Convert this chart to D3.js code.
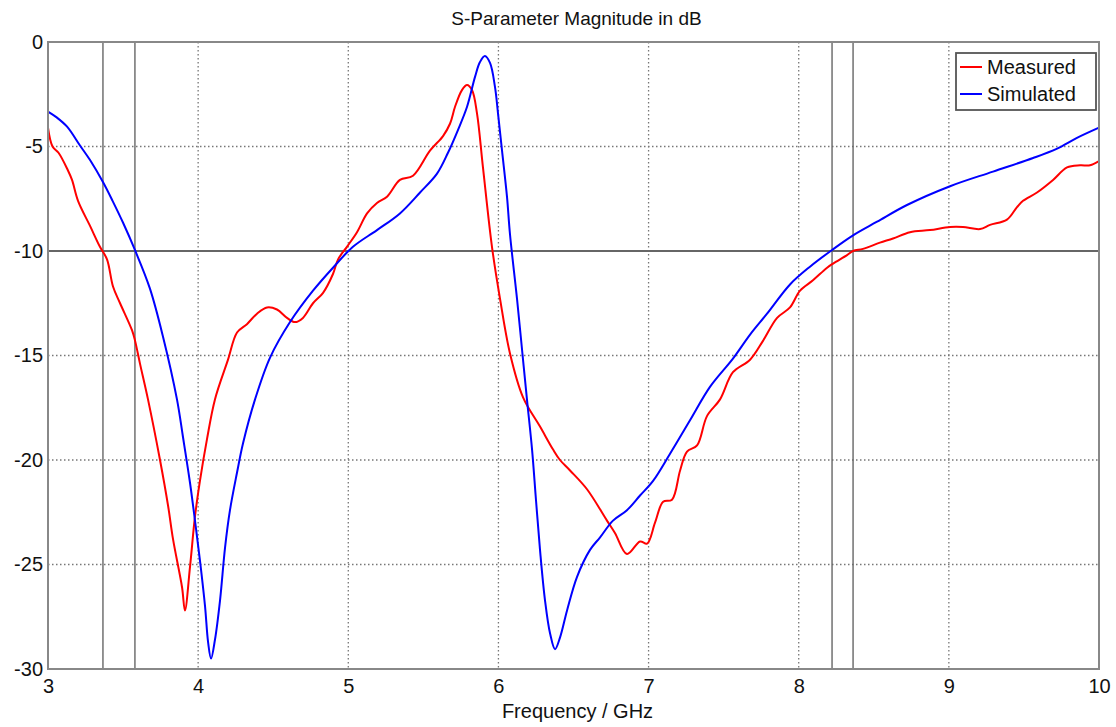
<!DOCTYPE html>
<html>
<head>
<meta charset="utf-8">
<script src="https://cdn.jsdelivr.net/npm/d3@7"></script>
<style>
  html, body { margin: 0; padding: 0; background: #fff; }
  svg { display: block; font-family: "Liberation Sans", Arial, sans-serif; }
</style>
</head>
<body>
<svg id="chart" width="1116" height="727"></svg>
<script>
// ---- data ----
const measuredFreq = [3.0,3.03,3.07,3.13,3.16,3.2,3.28,3.346,3.393,3.433,3.48,3.56,3.58,3.613,3.666,3.746,3.8,3.833,3.893,3.912,3.946,3.979,4.012,4.059,4.112,4.199,4.259,4.325,4.392,4.459,4.525,4.592,4.645,4.698,4.765,4.832,4.898,4.932,4.991,5.058,5.125,5.191,5.258,5.344,5.431,5.544,5.631,5.678,5.711,5.757,5.791,5.824,5.857,5.897,5.957,6.011,6.077,6.164,6.277,6.364,6.41,6.477,6.59,6.723,6.777,6.856,6.943,6.99,7.043,7.097,7.156,7.21,7.256,7.323,7.389,7.476,7.562,7.676,7.762,7.856,7.942,8.009,8.095,8.189,8.229,8.322,8.362,8.428,8.541,8.628,8.741,8.874,9.008,9.094,9.208,9.274,9.387,9.454,9.494,9.587,9.694,9.787,9.874,9.94,10.0];
const measuredDb = [-4.1,-5.0,-5.3,-6.1,-6.6,-7.6,-8.8,-9.8,-10.4,-11.7,-12.5,-13.8,-14.3,-15.4,-17.1,-20.0,-22.2,-23.8,-26.1,-27.2,-25.1,-22.7,-21.0,-19.0,-17.1,-15.2,-13.9,-13.5,-13.0,-12.7,-12.8,-13.2,-13.4,-13.2,-12.5,-12.0,-11.1,-10.4,-9.8,-9.1,-8.2,-7.7,-7.4,-6.6,-6.4,-5.2,-4.5,-3.9,-3.1,-2.3,-2.06,-2.3,-3.4,-6.0,-9.8,-12.3,-14.9,-17.0,-18.4,-19.5,-20.0,-20.5,-21.4,-22.9,-23.5,-24.5,-23.9,-24.0,-23.0,-22.0,-21.9,-20.5,-19.6,-19.3,-17.9,-17.1,-15.8,-15.2,-14.3,-13.2,-12.7,-11.9,-11.4,-10.8,-10.6,-10.2,-10.0,-9.9,-9.6,-9.4,-9.1,-9.0,-8.85,-8.85,-8.95,-8.75,-8.5,-7.9,-7.6,-7.2,-6.6,-6.0,-5.9,-5.9,-5.7];

const simulatedFreq = [3.0,3.06,3.127,3.213,3.28,3.366,3.43,3.5,3.579,3.679,3.766,3.859,3.899,3.946,3.979,4.012,4.046,4.066,4.086,4.112,4.146,4.179,4.212,4.259,4.299,4.379,4.479,4.612,4.765,4.898,5.031,5.191,5.344,5.478,5.591,5.664,5.731,5.791,5.844,5.877,5.91,5.944,5.977,5.997,6.024,6.057,6.077,6.124,6.157,6.19,6.224,6.25,6.277,6.31,6.344,6.377,6.41,6.457,6.523,6.61,6.677,6.763,6.856,6.943,7.03,7.143,7.276,7.409,7.562,7.676,7.789,7.942,8.075,8.222,8.362,8.522,8.721,9.008,9.294,9.561,9.721,9.85,10.0];
const simulatedDb = [-3.33,-3.62,-4.05,-4.95,-5.65,-6.7,-7.6,-8.65,-9.95,-11.8,-14.1,-17.1,-18.9,-21.1,-22.9,-24.8,-27.0,-28.7,-29.5,-28.6,-26.7,-24.2,-22.4,-20.6,-19.2,-17.1,-15.1,-13.4,-11.9,-10.8,-9.8,-9.0,-8.2,-7.2,-6.3,-5.3,-4.2,-3.1,-1.67,-0.96,-0.67,-1.0,-2.15,-3.4,-5.2,-7.4,-9.2,-12.3,-14.7,-17.1,-19.5,-21.9,-24.3,-26.7,-28.3,-29.05,-28.5,-27.2,-25.6,-24.3,-23.7,-22.9,-22.4,-21.7,-21.0,-19.7,-18.1,-16.5,-15.15,-14.0,-13.0,-11.6,-10.75,-9.95,-9.25,-8.6,-7.8,-6.9,-6.2,-5.55,-5.1,-4.6,-4.1];

const markerFreqs = [3.366, 3.579, 8.222, 8.362];
const refLevel = -10;
const xTicks = [3,4,5,6,7,8,9,10];
const yTicks = [0,-5,-10,-15,-20,-25,-30];
const seriesNames = ["Measured", "Simulated"];
const seriesColors = ["#ff0000", "#0000ff"];

// ---- layout ----
const svg = d3.select("#chart");
const pLeft = 48, pRight = 1099, pTop = 42, pBottom = 669;
const x = d3.scaleLinear().domain([3, 10]).range([pLeft, pRight]);
const y = d3.scaleLinear().domain([-30, 0]).range([pBottom, pTop]);

// grid
const grid = svg.append("g");
grid.selectAll("line.vx").data(xTicks.slice(1, -1)).join("line")
  .attr("x1", d => x(d)).attr("x2", d => x(d)).attr("y1", pTop).attr("y2", pBottom)
  .attr("stroke", "#777").attr("stroke-width", 1.3).attr("stroke-dasharray", "1.5,2.5");
grid.selectAll("line.hy").data(yTicks.slice(1, -1).filter(d => d !== refLevel)).join("line")
  .attr("y1", d => y(d)).attr("y2", d => y(d)).attr("x1", pLeft).attr("x2", pRight)
  .attr("stroke", "#777").attr("stroke-width", 1.3).attr("stroke-dasharray", "1.5,2.5");

// marker lines
svg.append("g").selectAll("line").data(markerFreqs).join("line")
  .attr("x1", d => x(d)).attr("x2", d => x(d)).attr("y1", pTop).attr("y2", pBottom)
  .attr("stroke", "#666").attr("stroke-width", 1.4);
svg.append("line")
  .attr("x1", pLeft).attr("x2", pRight).attr("y1", y(refLevel)).attr("y2", y(refLevel))
  .attr("stroke", "#666").attr("stroke-width", 2.2);

// curves
const line = d3.line().x(d => x(d[0])).y(d => y(d[1])).curve(d3.curveCatmullRom.alpha(0.5));
const series = [
  d3.zip(measuredFreq, measuredDb),
  d3.zip(simulatedFreq, simulatedDb)
];
svg.append("g").selectAll("path").data(series).join("path")
  .attr("d", line).attr("fill", "none")
  .attr("stroke", (d, i) => seriesColors[i]).attr("stroke-width", 2)
  .attr("stroke-linejoin", "round");

// frame
svg.append("rect").attr("x", pLeft).attr("y", pTop)
  .attr("width", pRight - pLeft).attr("height", pBottom - pTop)
  .attr("fill", "none").attr("stroke", "#888").attr("stroke-width", 2);

// axes (labels only, using d3 axes)
const xAxis = svg.append("g").attr("transform", `translate(0,${pBottom})`)
  .call(d3.axisBottom(x).tickValues(xTicks).tickFormat(d3.format("d")).tickSize(0).tickPadding(10));
const yAxis = svg.append("g").attr("transform", `translate(${pLeft},0)`)
  .call(d3.axisLeft(y).tickValues(yTicks).tickFormat(d => String(d)).tickSize(0).tickPadding(5));
[xAxis, yAxis].forEach(a => {
  a.select(".domain").remove();
  a.selectAll("text").attr("font-size", 20).attr("fill", "#111")
    .attr("font-family", "'Liberation Sans', Arial, sans-serif");
});

// title and label
svg.append("text").attr("x", (pLeft + pRight) / 2 + 3).attr("y", 25)
  .attr("text-anchor", "middle").attr("font-size", 19).attr("fill", "#111")
  .text("S-Parameter Magnitude in dB");
svg.append("text").attr("x", (pLeft + pRight) / 2 + 4).attr("y", 718)
  .attr("text-anchor", "middle").attr("font-size", 20).attr("fill", "#111")
  .text("Frequency / GHz");

// legend
const lg = svg.append("g");
lg.append("rect").attr("x", 956).attr("y", 53).attr("width", 140).attr("height", 57)
  .attr("fill", "#fff").attr("stroke", "#555").attr("stroke-width", 1.8);
seriesNames.forEach((name, i) => {
  const yy = 67 + i * 27;
  lg.append("line").attr("x1", 960).attr("x2", 982).attr("y1", yy).attr("y2", yy)
    .attr("stroke", seriesColors[i]).attr("stroke-width", 2);
  lg.append("text").attr("x", 987).attr("y", yy + 7).attr("font-size", 20).attr("fill", "#111")
    .text(name);
});
</script>
</body>
</html>
